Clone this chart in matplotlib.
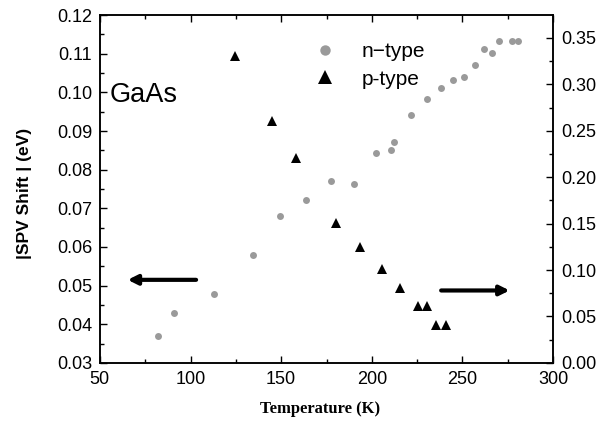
import matplotlib

matplotlib.use("Agg")
import matplotlib.pyplot as plt
from matplotlib.ticker import MultipleLocator

# n-type: |SPV shift| (eV), left axis
n_temp = [82.2, 90.8, 113.1, 134.3, 149.3, 163.7, 177.5, 190.3, 202.1, 210.6,
          212.4, 221.8, 230.6, 238.2, 244.6, 251.0, 257.1, 262.1, 266.5, 270.2,
          277.5, 280.6]
n_shift = [0.037, 0.0429, 0.0479, 0.0579, 0.0681, 0.0722, 0.0771, 0.0762, 0.0842, 0.0852,
           0.0871, 0.0941, 0.0982, 0.1012, 0.1031, 0.1041, 0.1072, 0.1112, 0.1102, 0.1132,
           0.1132, 0.1132]

# p-type: right axis
p_temp = [124.7, 144.8, 158.0, 180.2, 193.5, 205.8, 215.7, 225.3, 230.6, 235.4, 240.7]
p_shift = [0.331, 0.261, 0.221, 0.151, 0.125, 0.101, 0.081, 0.061, 0.061, 0.041, 0.041]

plt.rcParams["font.family"] = ["Liberation Sans", "DejaVu Sans"]

fig = plt.figure(figsize=(5.98, 4.21), dpi=100)
ax = fig.add_axes([0.167, 0.138, 0.758, 0.826])
ax2 = ax.twinx()

ax.plot(n_temp, n_shift, "o", color="#9a9a9a", markersize=5, markeredgewidth=0, label="n\u2212type")
ax2.plot(p_temp, p_shift, "^", color="black", markersize=6.5, markeredgewidth=0, label="p-type")

ax.set_xlim(50, 300)
ax.set_ylim(0.03, 0.12)
ax2.set_ylim(0, 0.3745)

ax.xaxis.set_major_locator(MultipleLocator(50))
ax.xaxis.set_minor_locator(MultipleLocator(25))
ax.yaxis.set_major_locator(MultipleLocator(0.01))
ax.yaxis.set_minor_locator(MultipleLocator(0.005))
ax2.yaxis.set_major_locator(MultipleLocator(0.05))
ax2.yaxis.set_minor_locator(MultipleLocator(0.025))
ax.yaxis.set_major_formatter(lambda v, p: f"{v:.2f}")
ax2.yaxis.set_major_formatter(lambda v, p: f"{v:.2f}")

ax.tick_params(axis="both", which="both", direction="in", top=True, labelsize=13, width=1)
ax.tick_params(which="major", length=5)
ax.tick_params(which="minor", length=3)
ax.tick_params(axis="x", which="major", pad=6)
ax.tick_params(axis="y", which="major", pad=5.5)
ax2.tick_params(axis="y", which="both", direction="in", labelsize=13, width=1)
ax2.tick_params(which="major", length=5, pad=5.5)
ax2.tick_params(which="minor", length=3)
for a in (ax, ax2):
    for s in a.spines.values():
        s.set_linewidth(1.1)

ax.set_xlabel("Temperature (K)", family="Liberation Serif", fontweight="bold", fontsize=12)
ax.xaxis.set_label_coords(0.486, -0.109)
ax.xaxis.label.set_va("top")
ax.set_ylabel("|SPV Shift | (eV)", fontweight="bold", fontsize=12.5)
ax.yaxis.set_label_coords(-0.150, 0.486)

ax.text(55.5, 0.0993, "GaAs", fontsize=19.5, va="center", ha="left")

# arrows pointing to the matching axis
ax.annotate("", xy=(63.8, 0.0515), xytext=(104.6, 0.0515),
            arrowprops=dict(arrowstyle="-|>", color="black", lw=3, mutation_scale=14))
ax2.annotate("", xy=(277.5, 0.078), xytext=(236.7, 0.078),
             arrowprops=dict(arrowstyle="-|>", color="black", lw=3, mutation_scale=14))

h1, l1 = ax.get_legend_handles_labels()
h2, l2 = ax2.get_legend_handles_labels()
ax.legend(h1 + h2, l1 + l2, loc="upper left", bbox_to_anchor=(0.474, 0.922), frameon=False,
          fontsize=15, handlelength=1.0, handletextpad=1.26, labelspacing=0.4,
          borderpad=0, borderaxespad=0, markerscale=1.5)

fig.savefig("out.png", dpi=100)
